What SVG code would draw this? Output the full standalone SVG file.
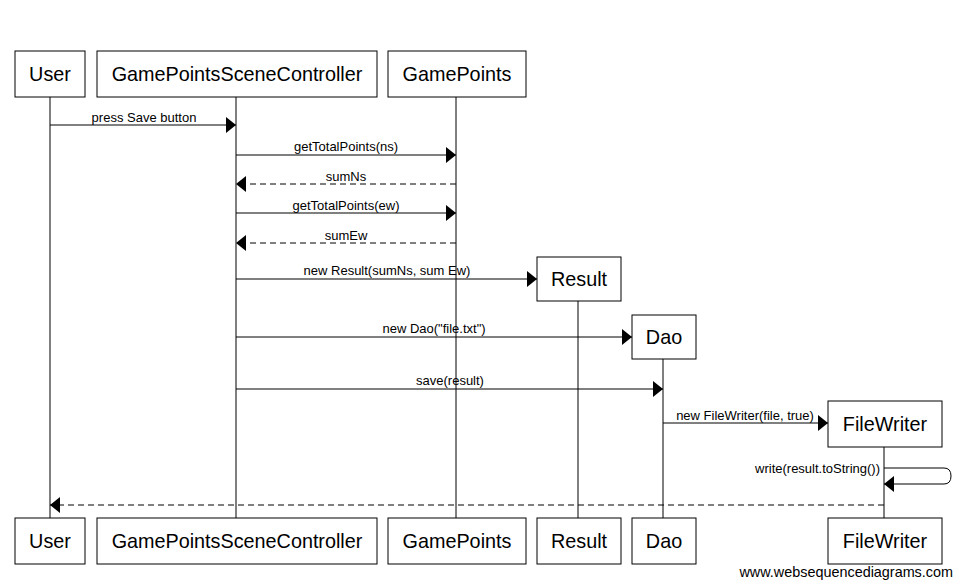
<svg xmlns="http://www.w3.org/2000/svg" width="962" height="588" viewBox="0 0 962 588">
<style>
.box{fill:#fff;stroke:#000;stroke-width:1}
.life{stroke:#000;stroke-width:1}
.name{font-family:"Liberation Sans",Arial,sans-serif;font-size:19.8px;text-anchor:middle;fill:#000}
.lbl{font-family:"Liberation Sans",Arial,sans-serif;font-size:13px;text-anchor:middle;fill:#000}
.msg{stroke:#000;stroke-width:1;fill:none}
.dash{stroke-dasharray:6,4}
</style>
<defs>
<marker id="ah" markerWidth="10" markerHeight="16" refX="10" refY="8" orient="auto" markerUnits="userSpaceOnUse">
<path d="M0,0 L10,8 L0,16 Z" fill="#000"/>
</marker>
</defs>
<rect width="962" height="588" fill="#fff"/>
<g id="lifelines">
<line class="life" x1="50" y1="97" x2="50" y2="518"/>
<line class="life" x1="236" y1="97" x2="236" y2="518"/>
<line class="life" x1="456" y1="97" x2="456" y2="518"/>
<line class="life" x1="578" y1="301" x2="578" y2="518"/>
<line class="life" x1="663" y1="359" x2="663" y2="518"/>
<line class="life" x1="884" y1="447" x2="884" y2="518"/>
</g>
<g id="connectors">
<line class="msg" x1="50" y1="125" x2="236" y2="125" marker-end="url(#ah)"/>
<text class="lbl" x="144" y="122">press Save button</text>
<line class="msg" x1="236" y1="155" x2="456" y2="155" marker-end="url(#ah)"/>
<text class="lbl" x="346" y="151">getTotalPoints(ns)</text>
<line class="msg dash" x1="456" y1="184" x2="236" y2="184" marker-end="url(#ah)"/>
<text class="lbl" x="346" y="181">sumNs</text>
<line class="msg" x1="236" y1="213" x2="456" y2="213" marker-end="url(#ah)"/>
<text class="lbl" x="346" y="210">getTotalPoints(ew)</text>
<line class="msg dash" x1="456" y1="243" x2="236" y2="243" marker-end="url(#ah)"/>
<text class="lbl" x="346" y="240">sumEw</text>
<line class="msg" x1="236" y1="279" x2="537" y2="279" marker-end="url(#ah)"/>
<text class="lbl" x="387" y="275">new Result(sumNs, sum Ew)</text>
<line class="msg" x1="236" y1="337" x2="632" y2="337" marker-end="url(#ah)"/>
<text class="lbl" x="434" y="333">new Dao("file.txt")</text>
<line class="msg" x1="236" y1="389" x2="663" y2="389" marker-end="url(#ah)"/>
<text class="lbl" x="450" y="385">save(result)</text>
<line class="msg" x1="663" y1="423" x2="828" y2="423" marker-end="url(#ah)"/>
<text class="lbl" x="745" y="420">new FileWriter(file, true)</text>
<path class="msg" d="M884,468 H944 Q951,468 951,476 Q951,484 944,484 H884" marker-end="url(#ah)"/>
<text class="lbl" x="880" y="473" style="text-anchor:end">write(result.toString())</text>
<line class="msg dash" x1="884" y1="505" x2="50" y2="505" marker-end="url(#ah)"/>
</g>
<g id="node-user-top"><rect class="box" x="15" y="51" width="70" height="46"/><text class="name" x="50" y="81">User</text></g>
<g id="node-gpsc-top"><rect class="box" x="97" y="51" width="280" height="46"/><text class="name" x="237" y="81">GamePointsSceneController</text></g>
<g id="node-gamepoints-top"><rect class="box" x="388" y="51" width="138" height="46"/><text class="name" x="457" y="81">GamePoints</text></g>
<g id="node-result-top"><rect class="box" x="537" y="257" width="84" height="44"/><text class="name" x="579" y="286">Result</text></g>
<g id="node-dao-top"><rect class="box" x="632" y="315" width="64" height="44"/><text class="name" x="664" y="344">Dao</text></g>
<g id="node-filewriter-top"><rect class="box" x="828" y="401" width="114" height="46"/><text class="name" x="885" y="431">FileWriter</text></g>
<g id="node-user-bottom"><rect class="box" x="15" y="518" width="70" height="46"/><text class="name" x="50" y="548">User</text></g>
<g id="node-gpsc-bottom"><rect class="box" x="97" y="518" width="280" height="46"/><text class="name" x="237" y="548">GamePointsSceneController</text></g>
<g id="node-gamepoints-bottom"><rect class="box" x="388" y="518" width="138" height="46"/><text class="name" x="457" y="548">GamePoints</text></g>
<g id="node-result-bottom"><rect class="box" x="537" y="518" width="84" height="46"/><text class="name" x="579" y="548">Result</text></g>
<g id="node-dao-bottom"><rect class="box" x="632" y="518" width="64" height="46"/><text class="name" x="664" y="548">Dao</text></g>
<g id="node-filewriter-bottom"><rect class="box" x="828" y="518" width="114" height="46"/><text class="name" x="885" y="548">FileWriter</text></g>
<text x="953" y="577" style="font-family:'Liberation Sans',Arial,sans-serif;font-size:14.4px;text-anchor:end;fill:#000">www.websequencediagrams.com</text>
</svg>
